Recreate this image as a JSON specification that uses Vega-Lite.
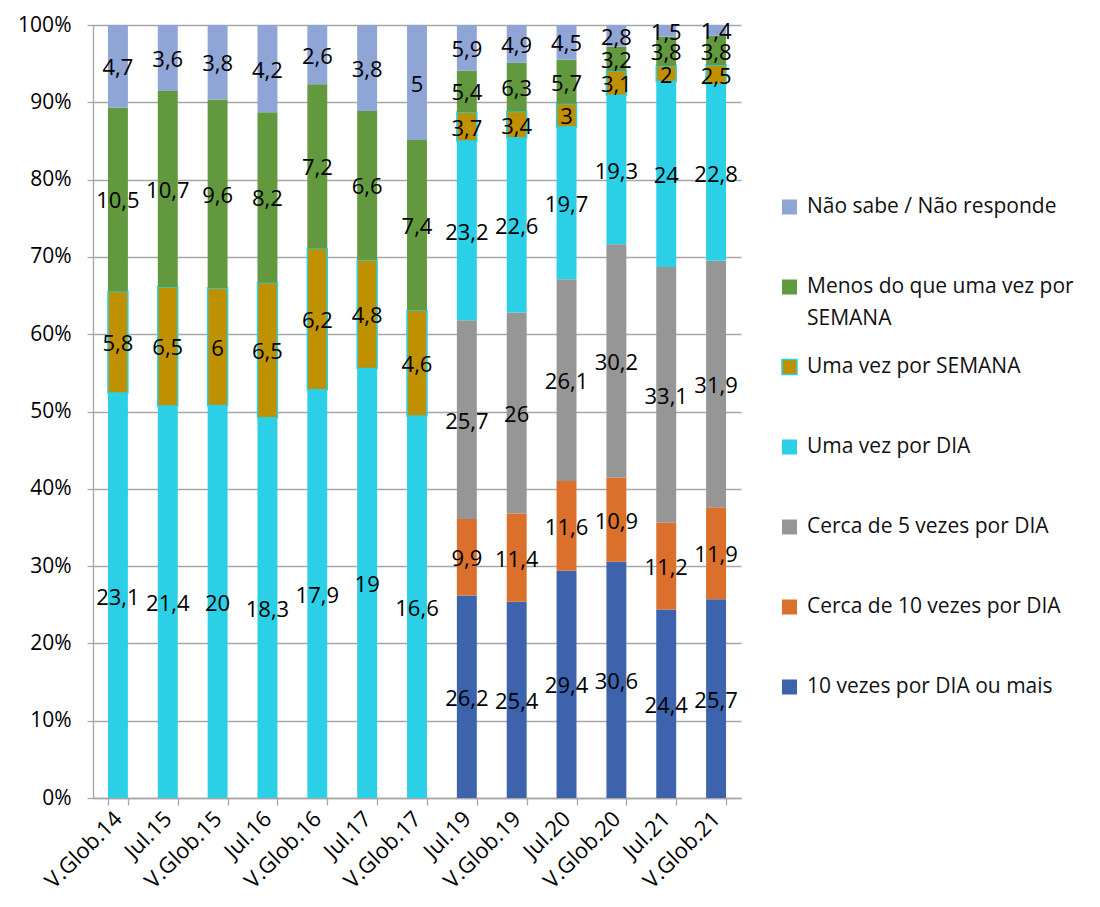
{
  "$schema": "https://vega.github.io/schema/vega-lite/v6.json",
  "width": 648,
  "height": 773,
  "autosize": {"type": "none"},
  "padding": {"left": 93, "top": 25, "right": 359, "bottom": 109},
  "background": "white",
  "config": {
    "font": "Open Sans",
    "view": {"stroke": null},
    "locale": {
      "number": {"decimal": ",", "thousands": ".", "grouping": [3], "currency": ["", " €"]}
    }
  },
  "data": {
    "values": [
      {"p": "V.Glob.14", "s": "Uma vez por DIA", "o": 4, "v": 23.1},
      {"p": "V.Glob.14", "s": "Uma vez por SEMANA", "o": 5, "v": 5.8},
      {"p": "V.Glob.14", "s": "Menos do que uma vez por SEMANA", "o": 6, "v": 10.5},
      {"p": "V.Glob.14", "s": "Não sabe / Não responde", "o": 7, "v": 4.7},

      {"p": "Jul.15", "s": "Uma vez por DIA", "o": 4, "v": 21.4},
      {"p": "Jul.15", "s": "Uma vez por SEMANA", "o": 5, "v": 6.5},
      {"p": "Jul.15", "s": "Menos do que uma vez por SEMANA", "o": 6, "v": 10.7},
      {"p": "Jul.15", "s": "Não sabe / Não responde", "o": 7, "v": 3.6},

      {"p": "V.Glob.15", "s": "Uma vez por DIA", "o": 4, "v": 20},
      {"p": "V.Glob.15", "s": "Uma vez por SEMANA", "o": 5, "v": 6},
      {"p": "V.Glob.15", "s": "Menos do que uma vez por SEMANA", "o": 6, "v": 9.6},
      {"p": "V.Glob.15", "s": "Não sabe / Não responde", "o": 7, "v": 3.8},

      {"p": "Jul.16", "s": "Uma vez por DIA", "o": 4, "v": 18.3},
      {"p": "Jul.16", "s": "Uma vez por SEMANA", "o": 5, "v": 6.5},
      {"p": "Jul.16", "s": "Menos do que uma vez por SEMANA", "o": 6, "v": 8.2},
      {"p": "Jul.16", "s": "Não sabe / Não responde", "o": 7, "v": 4.2},

      {"p": "V.Glob.16", "s": "Uma vez por DIA", "o": 4, "v": 17.9},
      {"p": "V.Glob.16", "s": "Uma vez por SEMANA", "o": 5, "v": 6.2},
      {"p": "V.Glob.16", "s": "Menos do que uma vez por SEMANA", "o": 6, "v": 7.2},
      {"p": "V.Glob.16", "s": "Não sabe / Não responde", "o": 7, "v": 2.6},

      {"p": "Jul.17", "s": "Uma vez por DIA", "o": 4, "v": 19},
      {"p": "Jul.17", "s": "Uma vez por SEMANA", "o": 5, "v": 4.8},
      {"p": "Jul.17", "s": "Menos do que uma vez por SEMANA", "o": 6, "v": 6.6},
      {"p": "Jul.17", "s": "Não sabe / Não responde", "o": 7, "v": 3.8},

      {"p": "V.Glob.17", "s": "Uma vez por DIA", "o": 4, "v": 16.6},
      {"p": "V.Glob.17", "s": "Uma vez por SEMANA", "o": 5, "v": 4.6},
      {"p": "V.Glob.17", "s": "Menos do que uma vez por SEMANA", "o": 6, "v": 7.4},
      {"p": "V.Glob.17", "s": "Não sabe / Não responde", "o": 7, "v": 5},

      {"p": "Jul.19", "s": "10 vezes por DIA ou mais", "o": 1, "v": 26.2},
      {"p": "Jul.19", "s": "Cerca de 10 vezes por DIA", "o": 2, "v": 9.9},
      {"p": "Jul.19", "s": "Cerca de 5 vezes por DIA", "o": 3, "v": 25.7},
      {"p": "Jul.19", "s": "Uma vez por DIA", "o": 4, "v": 23.2},
      {"p": "Jul.19", "s": "Uma vez por SEMANA", "o": 5, "v": 3.7},
      {"p": "Jul.19", "s": "Menos do que uma vez por SEMANA", "o": 6, "v": 5.4},
      {"p": "Jul.19", "s": "Não sabe / Não responde", "o": 7, "v": 5.9},

      {"p": "V.Glob.19", "s": "10 vezes por DIA ou mais", "o": 1, "v": 25.4},
      {"p": "V.Glob.19", "s": "Cerca de 10 vezes por DIA", "o": 2, "v": 11.4},
      {"p": "V.Glob.19", "s": "Cerca de 5 vezes por DIA", "o": 3, "v": 26},
      {"p": "V.Glob.19", "s": "Uma vez por DIA", "o": 4, "v": 22.6},
      {"p": "V.Glob.19", "s": "Uma vez por SEMANA", "o": 5, "v": 3.4},
      {"p": "V.Glob.19", "s": "Menos do que uma vez por SEMANA", "o": 6, "v": 6.3},
      {"p": "V.Glob.19", "s": "Não sabe / Não responde", "o": 7, "v": 4.9},

      {"p": "Jul.20", "s": "10 vezes por DIA ou mais", "o": 1, "v": 29.4},
      {"p": "Jul.20", "s": "Cerca de 10 vezes por DIA", "o": 2, "v": 11.6},
      {"p": "Jul.20", "s": "Cerca de 5 vezes por DIA", "o": 3, "v": 26.1},
      {"p": "Jul.20", "s": "Uma vez por DIA", "o": 4, "v": 19.7},
      {"p": "Jul.20", "s": "Uma vez por SEMANA", "o": 5, "v": 3},
      {"p": "Jul.20", "s": "Menos do que uma vez por SEMANA", "o": 6, "v": 5.7},
      {"p": "Jul.20", "s": "Não sabe / Não responde", "o": 7, "v": 4.5},

      {"p": "V.Glob.20", "s": "10 vezes por DIA ou mais", "o": 1, "v": 30.6},
      {"p": "V.Glob.20", "s": "Cerca de 10 vezes por DIA", "o": 2, "v": 10.9},
      {"p": "V.Glob.20", "s": "Cerca de 5 vezes por DIA", "o": 3, "v": 30.2},
      {"p": "V.Glob.20", "s": "Uma vez por DIA", "o": 4, "v": 19.3},
      {"p": "V.Glob.20", "s": "Uma vez por SEMANA", "o": 5, "v": 3.1},
      {"p": "V.Glob.20", "s": "Menos do que uma vez por SEMANA", "o": 6, "v": 3.2},
      {"p": "V.Glob.20", "s": "Não sabe / Não responde", "o": 7, "v": 2.8},

      {"p": "Jul.21", "s": "10 vezes por DIA ou mais", "o": 1, "v": 24.4},
      {"p": "Jul.21", "s": "Cerca de 10 vezes por DIA", "o": 2, "v": 11.2},
      {"p": "Jul.21", "s": "Cerca de 5 vezes por DIA", "o": 3, "v": 33.1},
      {"p": "Jul.21", "s": "Uma vez por DIA", "o": 4, "v": 24},
      {"p": "Jul.21", "s": "Uma vez por SEMANA", "o": 5, "v": 2},
      {"p": "Jul.21", "s": "Menos do que uma vez por SEMANA", "o": 6, "v": 3.8},
      {"p": "Jul.21", "s": "Não sabe / Não responde", "o": 7, "v": 1.5},

      {"p": "V.Glob.21", "s": "10 vezes por DIA ou mais", "o": 1, "v": 25.7},
      {"p": "V.Glob.21", "s": "Cerca de 10 vezes por DIA", "o": 2, "v": 11.9},
      {"p": "V.Glob.21", "s": "Cerca de 5 vezes por DIA", "o": 3, "v": 31.9},
      {"p": "V.Glob.21", "s": "Uma vez por DIA", "o": 4, "v": 22.8},
      {"p": "V.Glob.21", "s": "Uma vez por SEMANA", "o": 5, "v": 2.5},
      {"p": "V.Glob.21", "s": "Menos do que uma vez por SEMANA", "o": 6, "v": 3.8},
      {"p": "V.Glob.21", "s": "Não sabe / Não responde", "o": 7, "v": 1.4}
    ]
  },
  "transform": [
    {
      "stack": "v",
      "groupby": ["p"],
      "sort": [{"field": "o", "order": "ascending"}],
      "offset": "normalize",
      "as": ["y0", "y1"]
    },
    {"calculate": "(datum.y0 + datum.y1) / 2", "as": "ymid"}
  ],
  "layer": [
    {
      "mark": {"type": "bar", "strokeWidth": 1.5},
      "encoding": {
        "x": {
          "field": "p",
          "type": "nominal",
          "sort": ["V.Glob.14", "Jul.15", "V.Glob.15", "Jul.16", "V.Glob.16", "Jul.17", "V.Glob.17", "Jul.19", "V.Glob.19", "Jul.20", "V.Glob.20", "Jul.21", "V.Glob.21"],
          "scale": {"paddingInner": 0.6, "paddingOuter": 0.3},
          "axis": {
            "title": null,
            "tickBand": "extent",
            "labelAngle": -45,
            "labelAlign": "right",
            "labelBaseline": "middle",
            "labelFontSize": 22,
            "labelFont": "Open Sans",
            "labelColor": "#000000",
            "labelPadding": 10,
            "tickSize": 7,
            "tickColor": "#A6A6A6",
            "tickWidth": 1.3,
            "domainColor": "#A6A6A6",
            "domainWidth": 1.3,
            "grid": false
          }
        },
        "y": {
          "field": "y0",
          "type": "quantitative",
          "scale": {"domain": [0, 1], "nice": false},
          "axis": {
            "title": null,
            "values": [0, 0.1, 0.2, 0.3, 0.4, 0.5, 0.6, 0.7, 0.8, 0.9, 1],
            "format": ".0%",
            "grid": true,
            "gridColor": "#A6A6A6",
            "gridWidth": 1.3,
            "domainColor": "#A6A6A6",
            "domainWidth": 1.3,
            "tickColor": "#A6A6A6",
            "tickWidth": 1.3,
            "tickSize": 6,
            "labelFontSize": 21,
            "labelFont": "Open Sans",
            "labelColor": "#000000",
            "labelPadding": 16
          }
        },
        "y2": {"field": "y1"},
        "color": {
          "field": "s",
          "type": "nominal",
          "scale": {
            "domain": ["Não sabe / Não responde", "Menos do que uma vez por SEMANA", "Uma vez por SEMANA", "Uma vez por DIA", "Cerca de 5 vezes por DIA", "Cerca de 10 vezes por DIA", "10 vezes por DIA ou mais"],
            "range": ["#8FA5D6", "#62993E", "#BF9000", "#2BD0E6", "#969696", "#DA702C", "#3E63AD"]
          },
          "legend": {
            "title": null,
            "orient": "none",
            "legendX": 686,
            "legendY": 171,
            "padding": 0,
            "symbolType": "square",
            "symbolSize": 225,
            "symbolStrokeWidth": 1.5,
            "labelFont": "Open Sans",
            "labelFontSize": 21,
            "labelColor": "#111111",
            "labelOffset": 7,
            "labelLimit": 420,
            "rowPadding": 27,
            "gridAlign": "all",
            "clipHeight": 22,
            "labelExpr": "datum.label == 'Menos do que uma vez por SEMANA' ? ['Menos do que uma vez por', 'SEMANA'] : datum.label",
            "encode": {
              "labels": {
                "update": {
                  "lineHeight": {"value": 32}
                }
              }
            }
          }
        },
        "stroke": {
          "field": "s",
          "type": "nominal",
          "scale": {
            "domain": ["Não sabe / Não responde", "Menos do que uma vez por SEMANA", "Uma vez por SEMANA", "Uma vez por DIA", "Cerca de 5 vezes por DIA", "Cerca de 10 vezes por DIA", "10 vezes por DIA ou mais"],
            "range": ["transparent", "transparent", "#2BD0E6", "transparent", "transparent", "transparent", "transparent"]
          },
          "legend": {
            "title": null,
            "orient": "none",
            "legendX": 686,
            "legendY": 171,
            "padding": 0,
            "symbolType": "square",
            "symbolSize": 225,
            "symbolStrokeWidth": 1.5,
            "labelFont": "Open Sans",
            "labelFontSize": 21,
            "labelColor": "#111111",
            "labelOffset": 7,
            "labelLimit": 420,
            "rowPadding": 27,
            "gridAlign": "all",
            "clipHeight": 22,
            "labelExpr": "datum.label == 'Menos do que uma vez por SEMANA' ? ['Menos do que uma vez por', 'SEMANA'] : datum.label",
            "encode": {
              "labels": {
                "update": {
                  "lineHeight": {"value": 32}
                }
              }
            }
          }
        }
      }
    },
    {
      "mark": {"type": "text", "fontSize": 22, "font": "Open Sans", "color": "#000000", "dy": 2},
      "encoding": {
        "x": {
          "field": "p",
          "type": "nominal",
          "sort": ["V.Glob.14", "Jul.15", "V.Glob.15", "Jul.16", "V.Glob.16", "Jul.17", "V.Glob.17", "Jul.19", "V.Glob.19", "Jul.20", "V.Glob.20", "Jul.21", "V.Glob.21"]
        },
        "y": {"field": "ymid", "type": "quantitative"},
        "text": {"field": "v", "type": "quantitative", "format": ".3~r"}
      }
    }
  ]
}
